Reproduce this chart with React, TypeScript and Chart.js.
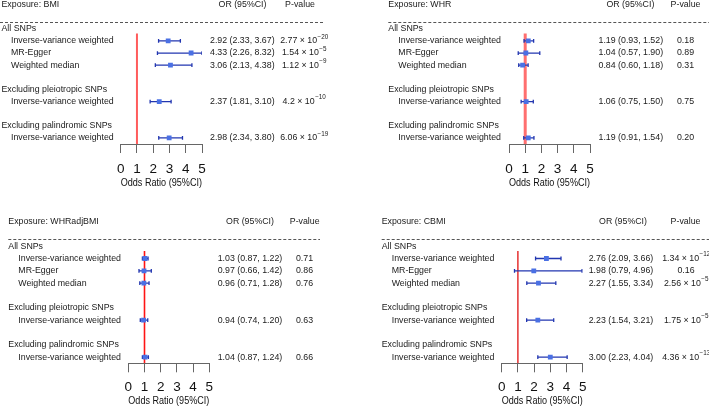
import React, { useEffect, useRef } from "react";
import { Chart, registerables } from "chart.js";

Chart.register(...registerables);

const FONT = "'Liberation Sans', Arial, Helvetica, sans-serif";

// ---------- data ----------
const ROW_LABELS = [
  "All SNPs",
  "Inverse-variance weighted",
  "MR-Egger",
  "Weighted median",
  "",
  "Excluding pleiotropic SNPs",
  "Inverse-variance weighted",
  "",
  "Excluding palindromic SNPs",
  "Inverse-variance weighted",
];
const GROUP_ROWS = [0, 5, 8];
const EST_ROWS = [1, 2, 3, 6, 9];
const X_TICKS = [0, 1, 2, 3, 4, 5];
const NULL_OR = 1;

const BMI_OR = [2.92, 4.33, 3.06, 2.37, 2.98];
const BMI_LO = [2.33, 2.26, 2.13, 1.81, 2.34];
const BMI_HI = [3.67, 8.32, 4.38, 3.1, 3.8];
const BMI_P = ["2.77e-20", "1.54e-5", "1.12e-9", "4.2e-10", "6.06e-19"];

const WHR_OR = [1.19, 1.04, 0.84, 1.06, 1.19];
const WHR_LO = [0.93, 0.57, 0.6, 0.75, 0.91];
const WHR_HI = [1.52, 1.9, 1.18, 1.5, 1.54];
const WHR_P = ["0.18", "0.89", "0.31", "0.75", "0.20"];

const WHRADJ_OR = [1.03, 0.97, 0.96, 0.94, 1.04];
const WHRADJ_LO = [0.87, 0.66, 0.71, 0.74, 0.87];
const WHRADJ_HI = [1.22, 1.42, 1.28, 1.2, 1.24];
const WHRADJ_P = ["0.71", "0.86", "0.76", "0.63", "0.66"];

const CBMI_OR = [2.76, 1.98, 2.27, 2.23, 3.0];
const CBMI_LO = [2.09, 0.79, 1.55, 1.54, 2.23];
const CBMI_HI = [3.66, 4.96, 3.34, 3.21, 4.04];
const CBMI_P = ["1.34e-12", "0.16", "2.56e-5", "1.75e-5", "4.36e-13"];

// ---------- layout ----------
const TICK_LEN = 9;
const TICK_FONT = 13.5;
const TITLE_FONT = 10.8;

type PanelCfg = {
  name: string;
  or: number[];
  lo: number[];
  hi: number[];
  p: string[];
  left: number;
  top: number;
  w: number;
  h: number;
  x0: number;
  x5: number;
  dashTop: number;
  axisY: number;
  tickPad: number;
  titlePadTop: number;
  groupX: number;
  methodX: number;
  dashX1: number;
  dashX2: number;
  orX: number;
  orHeadX: number;
  pHeadX: number;
  pX: number;
  red: string;
  redW: number;
};

const PANELS: PanelCfg[] = [
  {
    name: "BMI", or: BMI_OR, lo: BMI_LO, hi: BMI_HI, p: BMI_P,
    left: 0, top: 0, w: 354, h: 205, x0: 120.7, x5: 202, dashTop: 22.7, axisY: 144,
    tickPad: 8.2, titlePadTop: -8.6,
    groupX: 1.5, methodX: 11, dashX1: 0, dashX2: 325, orX: 242.3, orHeadX: 242.5, pHeadX: 300, pX: 304,
    red: "#ff5c5c", redW: 2,
  },
  {
    name: "WHR", or: WHR_OR, lo: WHR_LO, hi: WHR_HI, p: WHR_P,
    left: 355, top: 0, w: 354, h: 205, x0: 154, x5: 235, dashTop: 22.7, axisY: 144,
    tickPad: 8.2, titlePadTop: -8.6,
    groupX: 33.3, methodX: 43.3, dashX1: 33.3, dashX2: 354, orX: 275.8, orHeadX: 275.4, pHeadX: 330.5, pX: 330.5,
    red: "#ff6f6f", redW: 3,
  },
  {
    name: "WHRadjBMI", or: WHRADJ_OR, lo: WHRADJ_LO, hi: WHRADJ_HI, p: WHRADJ_P,
    left: 0, top: 205, w: 354, h: 204, x0: 128.3, x5: 209.3, dashTop: 35, axisY: 158.3,
    tickPad: 6.8, titlePadTop: -7.6,
    groupX: 8.3, methodX: 18.3, dashX1: 8.3, dashX2: 320, orX: 250, orHeadX: 250, pHeadX: 304.7, pX: 304.5,
    red: "#ff1414", redW: 1.6,
  },
  {
    name: "CBMI", or: CBMI_OR, lo: CBMI_LO, hi: CBMI_HI, p: CBMI_P,
    left: 355, top: 205, w: 354, h: 204, x0: 146.7, x5: 227.7, dashTop: 35, axisY: 158.3,
    tickPad: 6.8, titlePadTop: -7.6,
    groupX: 26.7, methodX: 36.7, dashX1: 26.7, dashX2: 354, orX: 266, orHeadX: 268, pHeadX: 330.5, pX: 331,
    red: "#e01010", redW: 1.3,
  },
];

const TEXT_COLOR = "#1a1a1a";
const TEXT_SIZE = 8.8;

function drawPValue(ctx: CanvasRenderingContext2D, s: string, cx: number, y: number) {
  const base = `${TEXT_SIZE}px ${FONT}`;
  const sup = `${TEXT_SIZE * 0.72}px ${FONT}`;
  if (s.indexOf("e") < 0) {
    ctx.font = base;
    ctx.textAlign = "center";
    ctx.fillText(s, cx, y);
    return;
  }
  const [m, e] = s.split("e");
  const main = `${m} \u00d7 10`;
  const exp = e.replace("-", "\u2212");
  ctx.font = base;
  const w1 = ctx.measureText(main).width;
  ctx.font = sup;
  const w2 = ctx.measureText(exp).width;
  const start = cx - (w1 + w2) / 2;
  ctx.textAlign = "left";
  ctx.font = base;
  ctx.fillText(main, start, y);
  ctx.font = sup;
  ctx.fillText(exp, start + w1 + 0.5, y - 4);
}

function Panel({ cfg }: { cfg: PanelCfg }) {
  const ref = useRef<HTMLCanvasElement | null>(null);
  useEffect(() => {
    if (!ref.current) return;
    const xMin = X_TICKS[0];
    const xMax = X_TICKS[X_TICKS.length - 1];
    const axisH =
      TICK_LEN + cfg.tickPad * 2 + TICK_FONT * 1.2 + TITLE_FONT * 1.2 + cfg.titlePadTop;

    const ciSets = EST_ROWS.map((row, i) => ({
      type: "line" as const,
      data: [
        { x: Math.max(cfg.lo[i], xMin), y: row },
        { x: Math.min(cfg.hi[i], xMax), y: row },
      ],
      borderColor: "#2236b0",
      borderWidth: 1.3,
      pointStyle: "line" as const,
      rotation: 90,
      pointRadius: 1.9,
      pointBorderWidth: 1.3,
      pointBorderColor: "#2236b0",
      pointHoverRadius: 0,
      order: 2,
    }));

    const pointSet = {
      type: "scatter" as const,
      data: EST_ROWS.map((row, i) => ({ x: cfg.or[i], y: row })),
      pointStyle: "rect" as const,
      pointRadius: 3.4,
      backgroundColor: "#4a70e4",
      borderColor: "#4a70e4",
      pointBorderWidth: 0,
      order: 1,
    };

    const redSet = {
      type: "line" as const,
      data: [
        { x: NULL_OR, y: 0.4 },
        { x: NULL_OR, y: 9.5 },
      ],
      borderColor: cfg.red,
      borderWidth: cfg.redW,
      pointRadius: 0,
      order: 3,
    };

    const textPlugin = {
      id: "forestText",
      afterDraw(chart: any) {
        const ctx: CanvasRenderingContext2D = chart.ctx;
        const ys = chart.scales.y;
        ctx.save();
        ctx.fillStyle = TEXT_COLOR;
        ctx.textBaseline = "middle";
        ctx.font = `${TEXT_SIZE}px ${FONT}`;
        const hy = ys.getPixelForValue(-2);
        ctx.textAlign = "left";
        ctx.fillText(`Exposure: ${cfg.name}`, cfg.groupX, hy);
        ctx.textAlign = "center";
        ctx.fillText("OR (95%CI)", cfg.orHeadX, hy);
        ctx.fillText("P-value", cfg.pHeadX, hy);

        // dashed separator
        const dy = Math.round(ys.getPixelForValue(-0.5)) - 0.5;
        ctx.strokeStyle = "#555";
        ctx.lineWidth = 1;
        ctx.setLineDash([3, 2]);
        ctx.beginPath();
        ctx.moveTo(cfg.dashX1, dy);
        ctx.lineTo(cfg.dashX2, dy);
        ctx.stroke();
        ctx.setLineDash([]);

        ROW_LABELS.forEach((lab, r) => {
          if (!lab) return;
          const isGroup = GROUP_ROWS.indexOf(r) >= 0;
          ctx.textAlign = "left";
          ctx.font = `${TEXT_SIZE}px ${FONT}`;
          ctx.fillText(lab, isGroup ? cfg.groupX : cfg.methodX, ys.getPixelForValue(r));
        });

        EST_ROWS.forEach((row, i) => {
          const y = ys.getPixelForValue(row);
          ctx.textAlign = "center";
          ctx.font = `${TEXT_SIZE}px ${FONT}`;
          ctx.fillText(
            `${cfg.or[i].toFixed(2)} (${cfg.lo[i].toFixed(2)}, ${cfg.hi[i].toFixed(2)})`,
            cfg.orX,
            y
          );
          drawPValue(ctx, cfg.p[i], cfg.pX, y);
        });
        ctx.restore();
      },
    };

    const chart = new Chart(ref.current, {
      data: { datasets: [redSet, ...ciSets, pointSet] as any },
      options: {
        responsive: false,
        devicePixelRatio: 1,
        animation: false,
        events: [],
        layout: {
          padding: {
            left: cfg.x0,
            right: cfg.w - cfg.x5,
            top: cfg.dashTop,
            bottom: cfg.h - cfg.axisY - axisH,
          },
        },
        plugins: { legend: { display: false }, tooltip: { enabled: false } },
        scales: {
          x: {
            type: "linear",
            position: "bottom",
            min: xMin,
            max: xMax,
            afterBuildTicks: (axis: any) => {
              axis.ticks = X_TICKS.map((v) => ({ value: v }));
            },
            ticks: {
              font: { size: TICK_FONT, family: FONT },
              color: "#111",
              padding: cfg.tickPad,
              maxRotation: 0,
            },
            grid: {
              drawOnChartArea: false,
              drawTicks: true,
              tickLength: TICK_LEN,
              color: "#666",
              lineWidth: 1,
            },
            border: { display: true, color: "#666", width: 1 },
            title: {
              display: true,
              text: "Odds Ratio (95%CI)",
              font: { size: TITLE_FONT, family: FONT },
              color: "#111",
              padding: { top: cfg.titlePadTop, bottom: 0 },
            },
          },
          y: {
            type: "linear",
            display: false,
            reverse: true,
            min: -0.5,
            max: 9.5,
          },
        },
      } as any,
      plugins: [textPlugin],
    });
    return () => chart.destroy();
  }, [cfg]);

  return (
    <canvas
      ref={ref}
      width={cfg.w}
      height={cfg.h}
      style={{ position: "absolute", left: cfg.left, top: cfg.top, width: cfg.w, height: cfg.h }}
    />
  );
}

export default function App() {
  return (
    <div
      style={{
        position: "absolute",
        left: 0,
        top: 0,
        width: 709,
        height: 409,
        background: "#fff",
        overflow: "hidden",
      }}
    >
      {PANELS.map((p) => (
        <Panel key={p.name} cfg={p} />
      ))}
    </div>
  );
}
